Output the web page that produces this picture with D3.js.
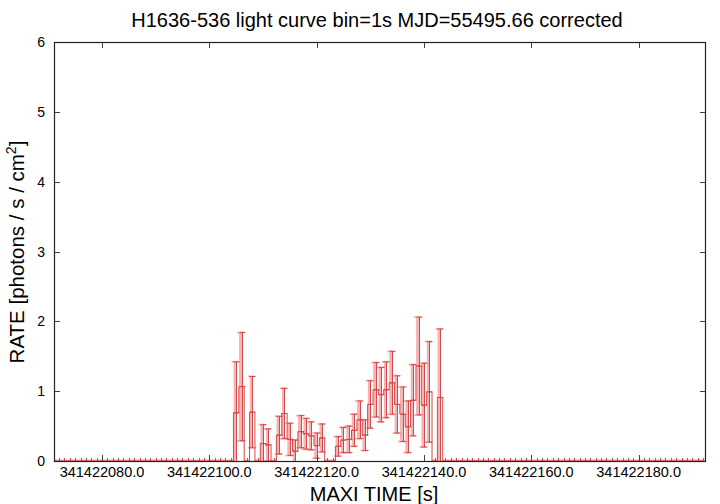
<!DOCTYPE html>
<html><head><meta charset="utf-8">
<script src="https://cdn.jsdelivr.net/npm/d3@7"></script>
<style>body{margin:0;background:#fff} svg{display:block;font-family:"Liberation Sans",Arial,Helvetica,sans-serif}</style>
</head><body><svg id="c" width="720" height="504"></svg>
<script>
const titleText = "H1636-536 light curve bin=1s MJD=55495.66 corrected";
const xLabel = "MAXI TIME [s]";
const timeBase = 341422000;
const binTime = [71,72,73,74,75,76,77,78,79,80,81,82,83,84,85,86,87,88,89,90,
  91,92,93,94,95,96,97,98,99,100,101,102,103,104,105,106,107,108,109,110,
  111,112,113,114,115,116,117,118,119,120,121,122,123,124,125,126,127,128,129,130,
  131,132,133,134,135,136,137,138,139,140,141,142,143,144,145,146,147,148,149,150,
  151,152,153,154,155,156,157,158,159,160,161,162,163,164,165,166,167,168,169,170,
  171,172,173,174,175,176,177,178,179,180,181,182,183,184,185,186,187,188,189,190,
  191,192];
const rate = [0,0,0,0,0,0,0,0,0,0,0,0,0,0,0,0,0,0,0,0,
  0,0,0,0,0,0,0,0,0,0,0,0,0,0,0.69,1.065,0,0.70,0,0.25,
  0.23,0,0.37,0.68,0.31,0.14,0.42,0.39,0.36,0.22,0.33,0,0,0.21,0.30,0.31,0.44,0.59,0.37,0.81,
  1.02,0.95,1.02,1.12,0.81,0.67,0.49,0.87,1.36,0.80,0.99,0,0.91,0,0,0,0,0,0,0,
  0,0,0,0,0,0,0,0,0,0,0,0,0,0,0,0,0,0,0,0,
  0,0,0,0,0,0,0,0,0,0,0,0,0,0,0,0,0,0,0,0,
  0,0];
const rateErr = [0,0,0,0,0,0,0,0,0,0,0,0,0,0,0,0,0,0,0,0,
  0,0,0,0,0,0,0,0,0,0,0,0,0,0,0.73,0.775,0,0.51,0,0.27,
  0.23,0,0.27,0.36,0.23,0.16,0.23,0.22,0.20,0.18,0.20,0,0,0.14,0.18,0.19,0.23,0.27,0.22,0.34,
  0.39,0.39,0.40,0.45,0.41,0.39,0.37,0.51,0.70,0.60,0.72,0,0.98,0,0,0,0,0,0,0,
  0,0,0,0,0,0,0,0,0,0,0,0,0,0,0,0,0,0,0,0,
  0,0,0,0,0,0,0,0,0,0,0,0,0,0,0,0,0,0,0,0,
  0,0];
const xTicks = [341422080,341422100,341422120,341422140,341422160,341422180];
const yTicks = [0,1,2,3,4,5,6];

const L=54, R=706, T=42, B=461;
const svg = d3.select("#c");
const x = d3.scaleLinear().domain([341422071.06, 341422192.55]).range([L,R]);
const y = d3.scaleLinear().domain([0,6]).range([B,T]);
const data = binTime.map((t,i)=>({t:timeBase+t, v:rate[i], e:rateErr[i]}));

svg.append("defs").append("clipPath").attr("id","pc")
  .append("rect").attr("x",L).attr("y",T).attr("width",R-L).attr("height",B-T+1);
const g = svg.append("g").attr("clip-path","url(#pc)");

const pink="#f5b3b3", red="#d54848";
const nz = data.filter(d=>d.e>0), zr = data.filter(d=>d.e===0);

// pink thick error bars
const pg = g.append("g").attr("stroke",pink).attr("stroke-width",3);
nz.forEach(d=>{
  const cx=x(d.t)-1;
  pg.append("line").attr("x1",cx).attr("x2",cx).attr("y1",y(d.v-d.e)).attr("y2",y(d.v+d.e));
  pg.append("line").attr("x1",cx-3.5).attr("x2",cx+3.5).attr("y1",y(d.v+d.e)).attr("y2",y(d.v+d.e)).attr("stroke-width",2);
  pg.append("line").attr("x1",cx-3.5).attr("x2",cx+3.5).attr("y1",y(d.v-d.e)).attr("y2",y(d.v-d.e)).attr("stroke-width",2);
});
zr.forEach(d=>{
  const cx=x(d.t);
  pg.append("line").attr("x1",cx-3).attr("x2",cx+3).attr("y1",y(0)).attr("y2",y(0)).attr("stroke-width",3);
});

// histeps
g.append("path").datum(data)
  .attr("d", d3.line().x(d=>x(d.t)).y(d=>y(d.v)).curve(d3.curveStep))
  .attr("fill","none").attr("stroke",red).attr("stroke-width",1);

// thin red error bars
const rg = g.append("g").attr("stroke",red).attr("stroke-width",1);
nz.forEach(d=>{
  const cx=Math.round(x(d.t))+0.5;
  rg.append("line").attr("x1",cx).attr("x2",cx).attr("y1",y(d.v-d.e)).attr("y2",y(d.v+d.e));
  rg.append("line").attr("x1",cx-3).attr("x2",cx+3).attr("y1",y(d.v+d.e)).attr("y2",y(d.v+d.e));
  rg.append("line").attr("x1",cx-3).attr("x2",cx+3).attr("y1",y(d.v-d.e)).attr("y2",y(d.v-d.e));
  rg.append("line").attr("x1",cx-3).attr("x2",cx+3).attr("y1",y(d.v)).attr("y2",y(d.v));
});
zr.forEach(d=>{
  const cx=Math.round(x(d.t))+0.5;
  rg.append("line").attr("x1",cx).attr("x2",cx).attr("y1",y(0)-3).attr("y2",y(0)+3);
});

// axes ticks (inward, mirrored)
const tk = svg.append("g").attr("stroke","#444").attr("stroke-width",1);
xTicks.forEach(v=>{
  const px=Math.round(x(v))+0.5;
  tk.append("line").attr("x1",px).attr("x2",px).attr("y1",B).attr("y2",B-6);
  tk.append("line").attr("x1",px).attr("x2",px).attr("y1",T).attr("y2",T+6);
});
yTicks.forEach(v=>{
  const py=Math.round(y(v))+0.5;
  tk.append("line").attr("x1",L).attr("x2",L+6).attr("y1",py).attr("y2",py);
  tk.append("line").attr("x1",R).attr("x2",R-6).attr("y1",py).attr("y2",py);
});
// frame
svg.append("rect").attr("x",L+0.5).attr("y",T+0.5).attr("width",R-L-1).attr("height",B-T)
  .attr("fill","none").attr("stroke","#222").attr("stroke-width",1.2);

// tick labels
svg.append("g").selectAll("text").data(xTicks).join("text")
  .attr("x",d=>x(d)).attr("y",477).attr("text-anchor","middle")
  .attr("font-size",14.5).text(d=>d3.format(".1f")(d));
svg.append("g").selectAll("text").data(yTicks).join("text")
  .attr("x",45).attr("y",d=>y(d)+5).attr("text-anchor","end")
  .attr("font-size",14).text(d=>d);

// title and axis labels
svg.append("text").attr("x",377).attr("y",27).attr("text-anchor","middle")
  .attr("font-size",20).text(titleText);
svg.append("text").attr("x",374).attr("y",501).attr("text-anchor","middle")
  .attr("font-size",20).text(xLabel);
const yl = svg.append("text").attr("transform","translate(24,252) rotate(-90)")
  .attr("text-anchor","middle").attr("font-size",20.5);
yl.append("tspan").text("RATE [photons / s / cm");
yl.append("tspan").attr("font-size",14).attr("dy",-8).text("2");
yl.append("tspan").attr("dy",8).text("]");
</script></body></html>
